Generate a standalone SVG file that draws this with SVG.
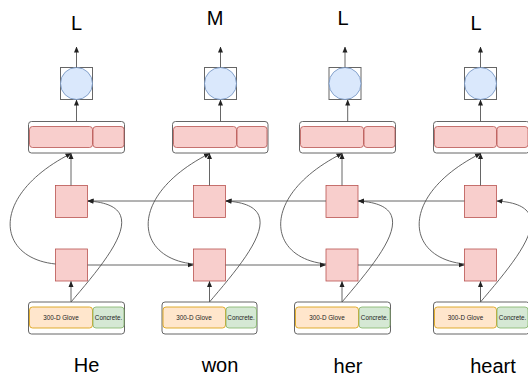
<svg xmlns="http://www.w3.org/2000/svg" width="528" height="376" viewBox="0 0 528 376">
<defs>
<marker id="ah" markerWidth="6" markerHeight="6" refX="5.5" refY="3" orient="auto" markerUnits="userSpaceOnUse">
<path d="M0,0.5 L6,3 L0,5.5 z" fill="#222"/>
</marker>
<style>
.lbl{font-family:"Liberation Sans",Arial,sans-serif;font-size:20px;fill:#000;text-anchor:middle}
.sm{font-family:"Liberation Sans",Arial,sans-serif;font-size:6.3px;fill:#222;text-anchor:middle;dominant-baseline:central}
.outer{fill:#fff;stroke:#666;stroke-width:1}
.pink{fill:#f8cecc;stroke:#b85450;stroke-width:0.8}
.yel{fill:#ffe6cc;stroke:#d79b00;stroke-width:0.8}
.grn{fill:#d5e8d4;stroke:#82b366;stroke-width:0.8}
.cbox{fill:none;stroke:#666;stroke-width:1}
.circ{fill:#dae8fc;stroke:#6c8ebf;stroke-width:0.8}
.ca{fill:none;stroke:#555;stroke-width:0.9;marker-end:url(#ah)}
</style>
</defs>
<rect width="528" height="376" fill="#fff"/>

<g id="col1">
<text class="lbl" x="76.5" y="30">L</text>
<rect class="cbox" x="60.5" y="67.5" width="32" height="32"/>
<circle class="circ" cx="76.5" cy="83.5" r="16"/>
<rect class="outer" x="28.5" y="121.5" width="96" height="31.5" rx="3"/>
<rect class="pink" x="29.5" y="126.5" width="63" height="21" rx="3"/>
<rect class="pink" x="93" y="126.5" width="31" height="21" rx="3"/>
<rect class="pink" x="55.5" y="185.5" width="32" height="32"/>
<rect class="pink" x="55.5" y="249" width="32" height="32"/>
<rect class="outer" x="28.5" y="302" width="96" height="32" rx="3"/>
<rect class="yel" x="29.5" y="307" width="63" height="21" rx="3"/>
<rect class="grn" x="93" y="307" width="31" height="21" rx="3"/>
<text class="sm" x="61" y="317.5">300-D Glove</text>
<text class="sm" x="108.5" y="317.5">Concrete.</text>
<text class="lbl" x="86.5" y="371.5">He</text>
</g>

<g id="col2">
<text class="lbl" x="215" y="25">M</text>
<rect class="cbox" x="204.5" y="67.5" width="32" height="32"/>
<circle class="circ" cx="220.5" cy="83.5" r="16"/>
<rect class="outer" x="172.5" y="121.5" width="95.5" height="31.5" rx="3"/>
<rect class="pink" x="173.5" y="126.5" width="63" height="21" rx="3"/>
<rect class="pink" x="237" y="126.5" width="30" height="21" rx="3"/>
<rect class="pink" x="193.5" y="185.5" width="32" height="32"/>
<rect class="pink" x="193.5" y="249" width="32" height="32"/>
<rect class="outer" x="162" y="302" width="95" height="32" rx="3"/>
<rect class="yel" x="163" y="307" width="62.5" height="21" rx="3"/>
<rect class="grn" x="226" y="307" width="30.5" height="21" rx="3"/>
<text class="sm" x="194" y="317.5">300-D Glove</text>
<text class="sm" x="241" y="317.5">Concrete.</text>
<text class="lbl" x="220" y="371.5">won</text>
</g>

<g id="col3">
<text class="lbl" x="343" y="25">L</text>
<rect class="cbox" x="329" y="67.5" width="32" height="32"/>
<circle class="circ" cx="345" cy="83.5" r="16"/>
<rect class="outer" x="299.5" y="121.5" width="96" height="31.5" rx="3"/>
<rect class="pink" x="300.5" y="126.5" width="63" height="21" rx="3"/>
<rect class="pink" x="364" y="126.5" width="31" height="21" rx="3"/>
<rect class="pink" x="326" y="185.5" width="32" height="32"/>
<rect class="pink" x="326" y="249" width="32" height="32"/>
<rect class="outer" x="294.5" y="302" width="96" height="32" rx="3"/>
<rect class="yel" x="295.5" y="307" width="63" height="21" rx="3"/>
<rect class="grn" x="359" y="307" width="31" height="21" rx="3"/>
<text class="sm" x="327" y="317.5">300-D Glove</text>
<text class="sm" x="374.5" y="317.5">Concrete.</text>
<text class="lbl" x="348" y="372.5">her</text>
</g>

<g id="col4">
<text class="lbl" x="476" y="30">L</text>
<rect class="cbox" x="464.5" y="67.5" width="32" height="32"/>
<circle class="circ" cx="480.5" cy="83.5" r="16"/>
<rect class="outer" x="433.5" y="121.5" width="96" height="31.5" rx="3"/>
<rect class="pink" x="434.5" y="126.5" width="62" height="21" rx="3"/>
<rect class="pink" x="497" y="126.5" width="31" height="21" rx="3"/>
<rect class="pink" x="464.5" y="185.5" width="32" height="32"/>
<rect class="pink" x="464.5" y="249" width="32" height="32"/>
<rect class="outer" x="433.5" y="302" width="96" height="32" rx="3"/>
<rect class="yel" x="434.5" y="307" width="62" height="21" rx="3"/>
<rect class="grn" x="497" y="307" width="31" height="21" rx="3"/>
<text class="sm" x="465.5" y="317.5">300-D Glove</text>
<text class="sm" x="512.5" y="317.5">Concrete.</text>
<text class="lbl" x="493" y="372.5">heart</text>
</g>

<g id="connectors">
<path class="ca" d="M76.5,67.5 V47"/>
<path class="ca" d="M76.5,121.5 V100"/>
<path class="ca" d="M71,185.5 V153.5"/>
<path class="ca" d="M71,302 V281.5"/>
<path class="ca" d="M71,302 C111,255 153,205 88,201"/>
<path class="ca" d="M55.5,264 C-4.5,258 -10.5,195 71,153.5"/>
<path class="ca" d="M220.5,67.5 V47"/>
<path class="ca" d="M220.5,121.5 V100"/>
<path class="ca" d="M209.5,185.5 V153.5"/>
<path class="ca" d="M209.5,302 V281.5"/>
<path class="ca" d="M209.5,302 C249.5,255 291.5,205 226,201"/>
<path class="ca" d="M193.5,264 C133.5,258 127.5,195 209.5,153.5"/>
<path class="ca" d="M345,67.5 V47"/>
<path class="ca" d="M347.7,121.5 V100"/>
<path class="ca" d="M342,185.5 V153.5"/>
<path class="ca" d="M342,302 V281.5"/>
<path class="ca" d="M342,302 C382,255 424,205 358.5,201"/>
<path class="ca" d="M326,264 C266,258 260,195 342,153.5"/>
<path class="ca" d="M480.5,67.5 V47"/>
<path class="ca" d="M480.5,121.5 V100"/>
<path class="ca" d="M480.5,185.5 V153.5"/>
<path class="ca" d="M480.5,302 V281.5"/>
<path class="ca" d="M480.5,302 C520.5,255 562.5,205 497,201"/>
<path class="ca" d="M464.5,264 C404.5,258 398.5,195 480.5,153.5"/>
<path class="ca" d="M193.5,201 H88"/>
<path class="ca" d="M326,201 H226"/>
<path class="ca" d="M464.5,201 H358.5"/>
<path class="ca" d="M87.5,265 H193"/>
<path class="ca" d="M225.5,265 H325.5"/>
<path class="ca" d="M358,265 H464"/>
</g>
</svg>
